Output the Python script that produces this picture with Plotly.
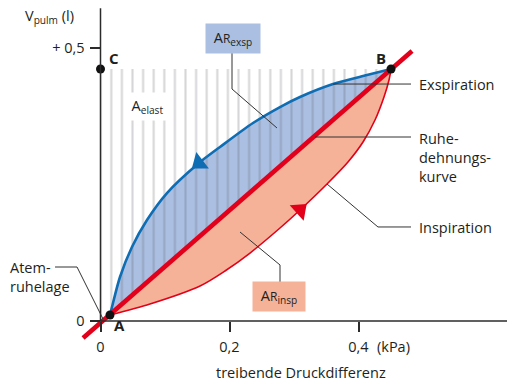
import math
import plotly.graph_objects as go

# ---------------- data (kPa, litres) ----------------
# key points A (rest position), B (end of inspiration), C
point_names = ["A", "B", "C"]
point_x = [0.0147, 0.4504, 0.0]
point_y = [0.0110, 0.4615, 0.4615]

# expiration branch, from B back to A
exp_x = [0.4504, 0.4132, 0.3605, 0.3093, 0.2783, 0.2364, 0.1853, 0.1527, 0.1031, 0.0721, 0.0488, 0.0302, 0.0178, 0.0147]
exp_y = [0.4615, 0.4505, 0.4340, 0.4103, 0.3919, 0.3626, 0.3187, 0.2894, 0.2344, 0.1850, 0.1355, 0.0806, 0.0256, 0.0110]

# inspiration branch, from A to B
insp_x = [0.0147, 0.0767, 0.1543, 0.1930, 0.2318, 0.2783, 0.3093, 0.3512, 0.3837, 0.4070, 0.4256, 0.4395, 0.4473, 0.4504]
insp_y = [0.0110, 0.0311, 0.0641, 0.0916, 0.1245, 0.1703, 0.2033, 0.2509, 0.2912, 0.3278, 0.3681, 0.4103, 0.4414, 0.4615]

# relaxation (Ruhedehnungs-) curve, straight line
rest_x = [-0.027, 0.483]
rest_y = [-0.031, 0.4945]

x_tickvals = [0, 0.2, 0.4]
x_ticktext = ["0", "0,2", "0,4"]
y_tickvals = [0, 0.5]
y_ticktext = ["0", "+ 0,5"]

# ---------------- style ----------------
BLUE = "#0f6db3"
BLUE_FILL = "#aabfe2"
RED = "#e2001a"
ORANGE_FILL = "#f5b298"
INK = "#231f20"
AXIS = "#2b2b2b"
FONT = "Open Sans"
FS = 14.5
W, H = 507, 383

X_RANGE = [-0.15581, 0.63023]
Y_RANGE = [-0.11355, 0.58791]
PX_PER_X = W / (X_RANGE[1] - X_RANGE[0])
PX_PER_Y = H / (Y_RANGE[1] - Y_RANGE[0])

fig = go.Figure()

# filled areas
fig.add_trace(go.Scatter(x=exp_x, y=exp_y, mode="lines", fill="toself",
                         fillcolor=BLUE_FILL, line=dict(width=0, shape="spline", smoothing=0.8),
                         hoverinfo="skip"))
fig.add_trace(go.Scatter(x=insp_x, y=insp_y, mode="lines", fill="toself",
                         fillcolor=ORANGE_FILL, line=dict(width=0, shape="spline", smoothing=0.8),
                         hoverinfo="skip"))

# hatched triangle A-B-C (A_elast)
A = (point_x[0], point_y[0]); B = (point_x[1], point_y[1]); C = (point_x[2], point_y[2])
fig.add_trace(go.Scatter(x=[C[0], B[0], A[0], C[0]], y=[C[1], B[1], A[1], A[1]],
                         mode="lines", fill="toself", fillcolor="rgba(0,0,0,0)",
                         line=dict(width=0),
                         fillpattern=dict(shape="|", size=10.6, solidity=0.2,
                                          fgcolor="rgba(90,90,100,0.5)", bgcolor="rgba(0,0,0,0)"),
                         hoverinfo="skip"))

# curves
fig.add_trace(go.Scatter(x=exp_x, y=exp_y, mode="lines",
                         line=dict(color=BLUE, width=2.6, shape="spline", smoothing=0.8), hoverinfo="skip"))
fig.add_trace(go.Scatter(x=insp_x, y=insp_y, mode="lines",
                         line=dict(color=RED, width=1.6, shape="spline", smoothing=0.8), hoverinfo="skip"))
fig.add_trace(go.Scatter(x=rest_x, y=rest_y, mode="lines",
                         line=dict(color=RED, width=4.6), hoverinfo="skip"))

# direction arrows on the loops (triangle rotated along the curve direction)
for xs, ys, i, col in [(exp_x, exp_y, 7, BLUE), (insp_x, insp_y, 6, RED)]:
    pdx = (xs[i] - xs[i - 1]) * PX_PER_X
    pdy = -(ys[i] - ys[i - 1]) * PX_PER_Y
    ang = math.degrees(math.atan2(pdx, -pdy))
    fig.add_trace(go.Scatter(x=[xs[i]], y=[ys[i]], mode="markers",
                             marker=dict(symbol="triangle-up", size=18, color=col,
                                         angle=ang, line=dict(width=0)),
                             hoverinfo="skip"))

# points A, B, C
fig.add_trace(go.Scatter(x=point_x, y=point_y, mode="markers",
                         marker=dict(color="#111111", size=9), hoverinfo="skip"))

# axis lines
shapes = [
    dict(type="line", xref="x", yref="y", x0=0, y0=0, x1=0, y1=0.573, line=dict(color=AXIS, width=1.5)),
    dict(type="line", xref="x", yref="y", x0=0, y0=0, x1=X_RANGE[1], y1=0, line=dict(color=AXIS, width=1.5)),
]

# leader lines
leaders = [
    [(-0.0705, 0.0989), (-0.0364, 0.0989), (0.0039, 0.0037)],      # Atemruhelage
    [(0.2039, 0.4908), (0.2039, 0.4249), (0.2736, 0.3535)],         # AR exsp
    [(0.2783, 0.0714), (0.2783, 0.1026), (0.2163, 0.1630)],         # AR insp
    [(0.3605, 0.4340), (0.4814, 0.4340)],                           # Exspiration
    [(0.3326, 0.3370), (0.4814, 0.3370)],                           # Ruhedehnungskurve
    [(0.3512, 0.2509), (0.4302, 0.1722), (0.4814, 0.1722)],         # Inspiration
]
for pts in leaders:
    path = "M " + " L ".join("%f,%f" % p for p in pts)
    shapes.append(dict(type="path", xref="x", yref="y", path=path,
                       line=dict(color="#333333", width=1)))

tf = dict(family=FONT, size=FS, color=INK)
annotations = [
    dict(x=-0.1194, y=0.557, text="V<sub>pulm</sub> (l)", xanchor="left"),
    dict(x=0.4907, y=0.434, text="Exspiration", xanchor="left"),
    dict(x=0.4907, y=0.300, text="Ruhe-<br>dehnungs-<br>kurve", xanchor="left", align="left"),
    dict(x=0.4907, y=0.172, text="Inspiration", xanchor="left"),
    dict(x=-0.1434, y=0.0806, text="Atem-<br>ruhelage", xanchor="left", align="left"),
    dict(x=0.0729, y=0.393, text="A<sub>elast</sub>", bgcolor="white", width=37, height=23, borderpad=2),
    dict(x=0.2054, y=0.5165, text="A<span style='font-size:12px'>R</span><sub>exsp</sub>",
         bgcolor=BLUE_FILL, width=50, height=25, borderpad=2),
    dict(x=0.2767, y=0.0449, text="A<span style='font-size:12px'>R</span><sub>insp</sub>",
         bgcolor=ORANGE_FILL, width=48, height=25, borderpad=2),
    dict(x=0.4248, y=-0.0476, text="(kPa)", xanchor="left"),
    dict(x=0.3109, y=-0.0934, text="treibende Druckdifferenz"),
]
for a in annotations:
    a.update(xref="x", yref="y", showarrow=False, font=tf)

# bold point labels next to the points
label_shift = [(10, -10), (-10, 11), (13, 11)]
for name, px, py, (sx, sy) in zip(point_names, point_x, point_y, label_shift):
    annotations.append(dict(x=px, y=py, xref="x", yref="y", text="<b>%s</b>" % name,
                            showarrow=False, xshift=sx, yshift=sy,
                            font=dict(family=FONT, size=15, color=INK)))

x_pos = (0 - Y_RANGE[0]) / (Y_RANGE[1] - Y_RANGE[0])
y_pos = (0 - X_RANGE[0]) / (X_RANGE[1] - X_RANGE[0])

fig.update_layout(
    width=W, height=H, autosize=False,
    margin=dict(l=0, r=0, t=0, b=0),
    paper_bgcolor="white", plot_bgcolor="white",
    showlegend=False,
    font=dict(family=FONT, size=FS, color=INK),
    shapes=shapes, annotations=annotations,
    xaxis=dict(range=X_RANGE, showgrid=False, zeroline=False, showline=False,
               anchor="free", position=x_pos,
               tickmode="array", tickvals=x_tickvals, ticktext=x_ticktext,
               ticks="outside", ticklen=10, tickwidth=1.5, tickcolor=AXIS,
               tickfont=dict(family=FONT, size=FS, color=INK), ticklabelstandoff=3,
               fixedrange=True),
    yaxis=dict(range=Y_RANGE, showgrid=False, zeroline=False, showline=False,
               anchor="free", position=y_pos,
               tickmode="array", tickvals=y_tickvals, ticktext=y_ticktext,
               ticks="outside", ticklen=10, tickwidth=1.5, tickcolor=AXIS,
               tickfont=dict(family=FONT, size=FS, color=INK), ticklabelstandoff=3,
               fixedrange=True),
)

fig.write_html("out.html", config={"displayModeBar": False},
               post_script="document.body.style.margin='0';document.documentElement.style.overflow='hidden';")
